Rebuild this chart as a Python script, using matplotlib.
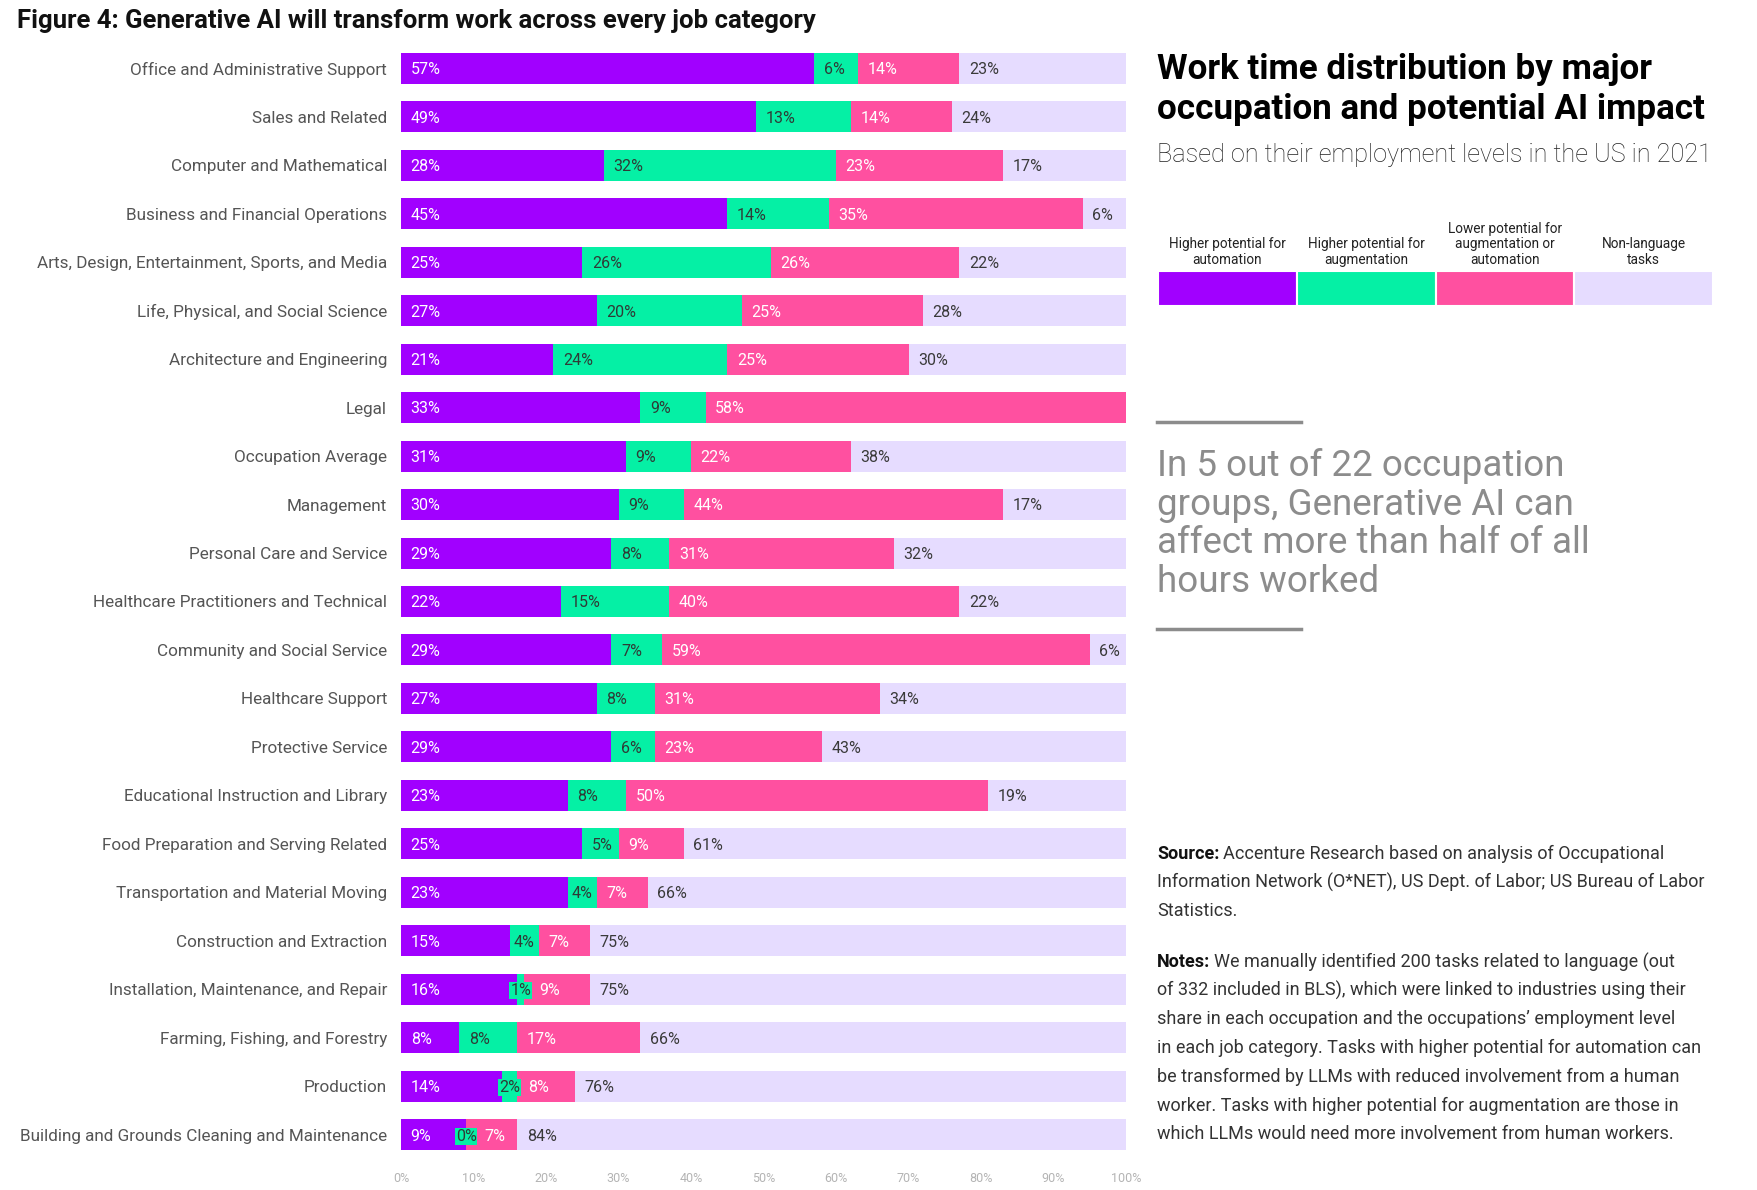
import numpy as np
import matplotlib.pyplot as plt
from matplotlib.transforms import blended_transform_factory

plt.rcParams['font.family'] = ['Roboto', 'DejaVu Sans']

categories = [
    "Office and Administrative Support",
    "Sales and Related",
    "Computer and Mathematical",
    "Business and Financial Operations",
    "Arts, Design, Entertainment, Sports, and Media",
    "Life, Physical, and Social Science",
    "Architecture and Engineering",
    "Legal",
    "Occupation Average",
    "Management",
    "Personal Care and Service",
    "Healthcare Practitioners and Technical",
    "Community and Social Service",
    "Healthcare Support",
    "Protective Service",
    "Educational Instruction and Library",
    "Food Preparation and Serving Related",
    "Transportation and Material Moving",
    "Construction and Extraction",
    "Installation, Maintenance, and Repair",
    "Farming, Fishing, and Forestry",
    "Production",
    "Building and Grounds Cleaning and Maintenance",
]
automation = [57, 49, 28, 45, 25, 27, 21, 33, 31, 30, 29, 22, 29, 27, 29, 23, 25, 23, 15, 16, 8, 14, 9]
augmentation = [6, 13, 32, 14, 26, 20, 24, 9, 9, 9, 8, 15, 7, 8, 6, 8, 5, 4, 4, 1, 8, 2, 0]
lower_potential = [14, 14, 23, 35, 26, 25, 25, 58, 22, 44, 31, 40, 59, 31, 23, 50, 9, 7, 7, 9, 17, 8, 7]
non_language = [23, 24, 17, 6, 22, 28, 30, 0, 38, 17, 32, 22, 6, 34, 43, 19, 61, 66, 75, 75, 66, 76, 84]

series_names = ["Higher potential for\nautomation", "Higher potential for\naugmentation",
                "Lower potential for\naugmentation or\nautomation", "Non-language\ntasks"]
series_colors = ["#A100FF", "#05F0A5", "#FF50A0", "#E6DCFF"]
label_colors = ["white", "#2f3b36", "white", "#3a3a3a"]
xtick_values = [0, 10, 20, 30, 40, 50, 60, 70, 80, 90, 100]

W, H = 1758, 1190
fig = plt.figure(figsize=(W / 100, H / 100), dpi=100)
renderer = fig.canvas.get_renderer()


def fx(px):
    return px / W


def fy(py):
    return 1 - py / H


# main stacked bar chart
ax = fig.add_axes([fx(401), fy(1159), fx(1126) - fx(401), fy(44) - fy(1159)])
ax.set_xlim(0, 100)
ax.set_ylim(len(categories) - 0.5, -0.5)
y = np.arange(len(categories))
bh = 0.64
ax.barh(y, [100] * len(categories), height=bh, color=series_colors[3], zorder=1)

green_end = {}
left = np.zeros(len(categories))
for k, vals in enumerate([automation, augmentation, lower_potential, non_language]):
    vals = np.array(vals, dtype=float)
    if k < 3:
        ax.barh(y, vals, left=left, height=bh, color=series_colors[k], zorder=2)
    for i, v in enumerate(vals):
        if k == 3 and v == 0:
            continue
        if k == 1 and v < 5:
            t = ax.text(left[i] + v / 2, i + 0.03, f"{int(v)}%", ha='center', va='center',
                        fontsize=11.5, color=label_colors[k], zorder=4,
                        bbox=dict(boxstyle='square,pad=0.05', fc=series_colors[1], ec='none'))
            green_end[i] = t.get_window_extent(renderer).x1
        else:
            off = 7
            if k == 2 and i in green_end:
                start_px = ax.transData.transform((left[i], i))[0]
                off = max(off, (green_end[i] - start_px + 8) * 72 / fig.dpi)
            ax.annotate(f"{int(v)}%", xy=(left[i], i), xytext=(off, -1), textcoords='offset points',
                        ha='left', va='center', fontsize=11.5, color=label_colors[k], zorder=3)
    left = left + vals

ax.set_yticks(y)
ax.set_yticklabels(categories, fontsize=12.3, color='#555555')
ax.set_xticks(xtick_values)
ax.set_xticklabels([f"{v}%" for v in xtick_values], fontsize=9, color='#b4b4b4')
ax.tick_params(length=0)
ax.tick_params(axis='y', pad=10)
ax.tick_params(axis='x', pad=9)
for s in ax.spines.values():
    s.set_visible(False)

# figure title
fig.text(fx(17), fy(21), "Figure 4: Generative AI will transform work across every job category",
         fontsize=18.5, fontweight='bold', color='#111111', va='center', ha='left')

# right panel header
fig.text(fx(1157), fy(70), "Work time distribution by major", fontsize=25.2, fontweight='bold',
         color='#000000', va='center')
fig.text(fx(1157), fy(109), "occupation and potential AI impact", fontsize=25.2, fontweight='bold',
         color='#000000', va='center')
fig.text(fx(1157), fy(155), "Based on their employment levels in the US in 2021", fontsize=18.2,
         fontweight='light', color='#222222', va='center')

# legend
lax = fig.add_axes([fx(1158), fy(306), fx(1713) - fx(1158), fy(271) - fy(306)])
lax.barh([0] * 4, [1] * 4, left=np.arange(4), height=1, color=series_colors,
         edgecolor='white', linewidth=1.5)
lax.set_xlim(0, 4)
lax.set_ylim(-0.5, 0.5)
lax.axis('off')
tr = blended_transform_factory(lax.transData, lax.transAxes)
for i, name in enumerate(series_names):
    lax.text(i + 0.5, 1.12, name, transform=tr, ha='center', va='bottom', fontsize=9.8,
             color='#222222', linespacing=1.15)

# callout
for yy in [422, 629]:
    fig.add_artist(plt.Line2D([fx(1157), fx(1301)], [fy(yy), fy(yy)], color='#8c8c8c', lw=2.5))
callout = ["In 5 out of 22 occupation", "groups, Generative AI can",
           "affect more than half of all", "hours worked"]
for i, line in enumerate(callout):
    fig.text(fx(1157), fy(466 + i * 38.6), line, fontsize=26.5, color='#8c8c8c', va='center')


# source and notes
def para(y0, head, lines):
    for i, line in enumerate(lines):
        yy = fy(y0 + i * 28.7)
        if i == 0:
            t = fig.text(fx(1157), yy, head, fontsize=13, fontweight='bold', color='#111111', va='center')
            bb = t.get_window_extent(renderer)
            fig.text(bb.x1 / W + fx(4), yy, line, fontsize=13, color='#333333', va='center')
        else:
            fig.text(fx(1157), yy, line, fontsize=13, color='#333333', va='center')


para(854, "Source:", ["Accenture Research based on analysis of Occupational",
                      "Information Network (O*NET), US Dept. of Labor; US Bureau of Labor",
                      "Statistics."])
para(962, "Notes:", ["We manually identified 200 tasks related to language (out",
                     "of 332 included in BLS), which were linked to industries using their",
                     "share in each occupation and the occupations\u2019 employment level",
                     "in each job category. Tasks with higher potential for automation can",
                     "be transformed by LLMs with reduced involvement from a human",
                     "worker. Tasks with higher potential for augmentation are those in",
                     "which LLMs would need more involvement from human workers."])

fig.savefig("out.png", dpi=100)
